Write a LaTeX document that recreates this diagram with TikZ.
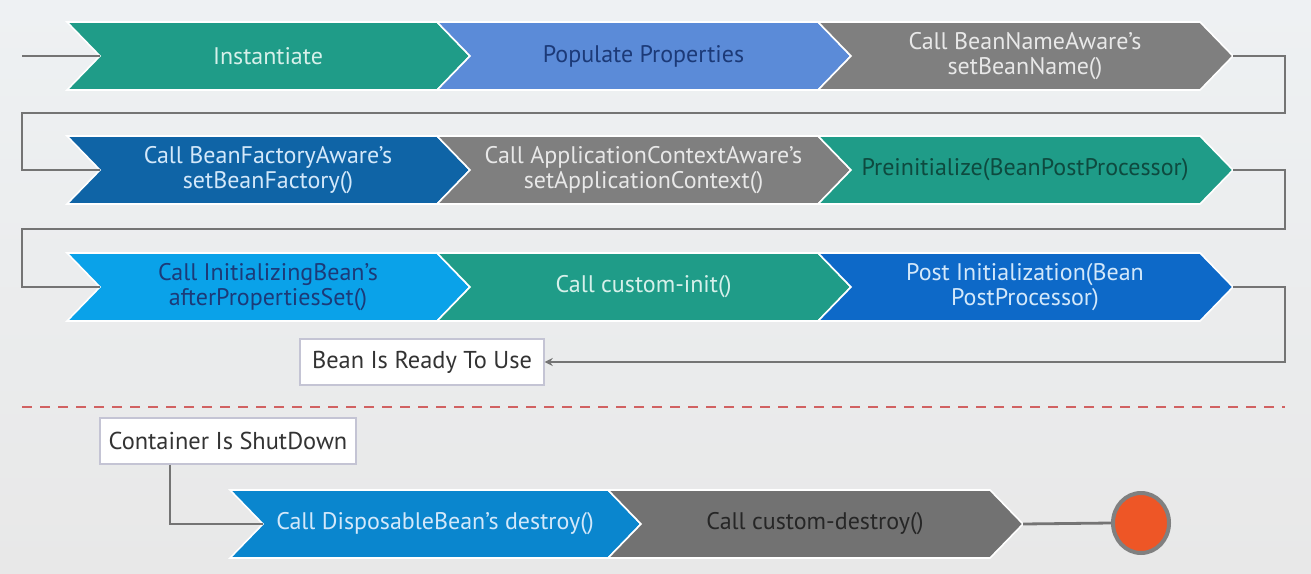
\documentclass[tikz,border=0pt]{standalone}
\usepackage{fontspec}
\setmainfont{PT Sans}
\usetikzlibrary{calc,arrows.meta,shapes.geometric}

\definecolor{bgtop}{HTML}{EEF1F3}
\definecolor{bgbot}{HTML}{E8E8E8}
\definecolor{teal}{HTML}{1F9C88}
\definecolor{sky}{HTML}{5B8BD8}
\definecolor{midgray}{HTML}{7F7F7F}
\definecolor{darkblue}{HTML}{0F64A6}
\definecolor{brightblue}{HTML}{0AA2E9}
\definecolor{royal}{HTML}{0D69C8}
\definecolor{dispblue}{HTML}{0A86CE}
\definecolor{destgray}{HTML}{727272}
\definecolor{lighttxt}{HTML}{D6F0EA}
\definecolor{navytxt}{HTML}{1C3A78}
\definecolor{greytxt}{HTML}{E8E8E8}
\definecolor{darkteal}{HTML}{0E4A3F}
\definecolor{paleblue}{HTML}{D3E8FA}
\definecolor{linegray}{HTML}{747474}
\definecolor{endorange}{HTML}{EE5626}

\tikzset{
  chevtext/.style={align=center, font=\fontsize{12}{12.5}\selectfont, inner sep=0pt},
  conn/.style={draw=linegray, line width=1.4pt},
  labelbox/.style={draw=blue!15!gray!40, fill=white, line width=0.7pt, text=black!80,
    font=\fontsize{12.2}{13}\selectfont, inner sep=0pt, minimum height=23pt},
}

% #1 name, #2 left x, #3 body end x, #4 centre y, #5 fill, #6 text colour, #7 label
\newcommand{\chevron}[7]{%
  \fill[#5, draw=white, line width=0.8pt]
    (#2,#4-34) -- (#3,#4-34) -- (#3+33,#4) -- (#3,#4+34) -- (#2,#4+34) -- (#2+33,#4) -- cycle;
  \node[chevtext, text=#6] (#1) at ({(#2+#3)/2+16},#4) {#7};
  \coordinate (#1-in) at (#2+33,#4);
  \coordinate (#1-out) at (#3+33,#4);
}

\begin{document}
\begin{tikzpicture}[x=0.5pt, y=-0.5pt]
  % page and background
  \useasboundingbox (0,0) rectangle (1311,573);
  \shade[top color=bgtop, middle color=white!60!bgtop, bottom color=bgbot] (0,0) rectangle (1311,573);

  % initialisation phase
  \chevron{inst}{67}{437}{56}{teal}{lighttxt}{Instantiate}
  \chevron{populate}{437}{818}{56}{sky}{navytxt}{Populate Properties}
  \chevron{beanname}{818}{1200}{56}{midgray}{greytxt}{Call BeanNameAware's\\setBeanName()}

  \chevron{factory}{67}{437}{170}{darkblue}{paleblue}{Call BeanFactoryAware's\\setBeanFactory()}
  \chevron{appctx}{437}{818}{170}{midgray}{greytxt}{Call ApplicationContextAware's\\setApplicationContext()}
  \chevron{preinit}{818}{1200}{170}{teal}{darkteal}{Preinitialize(BeanPostProcessor)}

  \chevron{initbean}{67}{437}{287}{brightblue}{navytxt}{Call InitializingBean's\\afterPropertiesSet()}
  \chevron{custinit}{437}{818}{287}{teal}{lighttxt}{Call custom-init()}
  \chevron{postinit}{818}{1200}{287}{royal}{paleblue}{Post Initialization(Bean\\PostProcessor)}

  \node[labelbox, minimum width=122pt] (ready) at (422,362) {Bean Is Ready To Use};

  % destruction phase
  \draw[draw=red!55!gray!80, line width=1.3pt, dash pattern=on 5pt off 4pt] (22,407) -- (1285,407);

  \node[labelbox, minimum width=128pt] (container) at (228,441) {Container Is ShutDown};

  \chevron{dispose}{230}{608}{524}{dispblue}{paleblue}{Call DisposableBean's destroy()}
  \chevron{custdest}{608}{990}{524}{destgray}{black!85}{Call custom-destroy()}

  \node[ellipse, fill=endorange, draw=gray, line width=2pt, minimum width=28pt, minimum height=30pt, inner sep=0pt] (stop) at (1141,523) {};

  % connectors
  \coordinate (start) at (22,56);
  \draw[conn] (start) -- (inst-in);
  \draw[conn] (beanname-out) -- ++(52,0) |- (22,113) |- (factory-in);
  \draw[conn] (preinit-out) -- ++(52,0) |- (22,229) |- (initbean-in);
  \draw[conn, -{Stealth[length=4pt,width=4pt]}] (postinit-out) -- ++(52,0) |- (ready.east);
  \draw[conn] ($(container.south)+(-58,0)$) |- (dispose-in);
  \draw[conn] (custdest-out) -- (stop.west);
\end{tikzpicture}
\end{document}
